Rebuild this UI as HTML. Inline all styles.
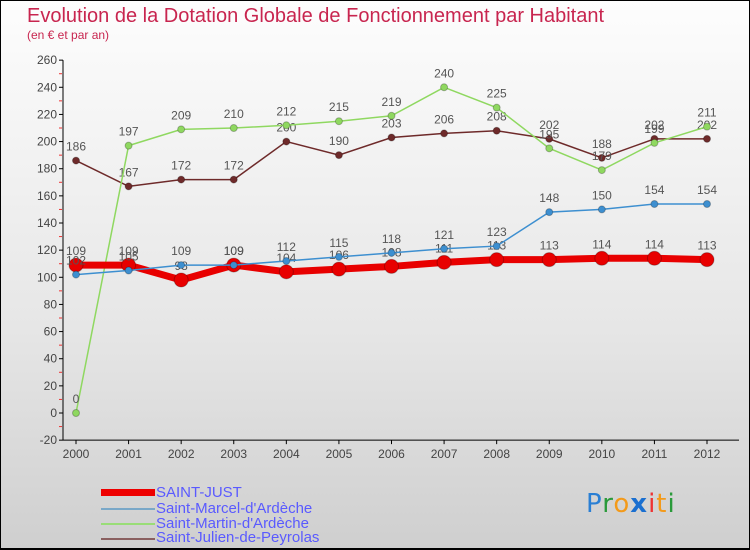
<!DOCTYPE html>
<html><head><meta charset="utf-8"><style>
body{margin:0}
#wrap{position:relative;width:750px;height:550px;box-sizing:border-box;border:1px solid #000;border-bottom:2px solid #000;background:linear-gradient(#fdfdfd,#e6e6e6 60%,#cfcfcf);font-family:"Liberation Sans",sans-serif;overflow:hidden}
.t{position:absolute;color:#c8254f}
.lg{position:absolute;left:155px;font-size:15px;color:#5a5aff;line-height:15px}
.sw{position:absolute;left:100px;width:54px}
</style></head><body>
<div id="wrap">
<div class="t" style="left:26px;top:4px;font-size:20px">Evolution de la Dotation Globale de Fonctionnement par Habitant</div>
<div class="t" style="left:26px;top:27px;font-size:12px">(en € et par an)</div>
<svg id="svg" width="750" height="550" style="position:absolute;left:0;top:0"></svg>
<div class="sw" style="top:488px;height:7px;background:#e00"></div>
<div class="lg" style="top:484px">SAINT-JUST</div>
<div class="sw" style="top:507px;height:2px;background:#7aa8c8"></div>
<div class="lg" style="top:500px">Saint-Marcel-d'Ardèche</div>
<div class="sw" style="top:522px;height:2px;background:#99dd77"></div>
<div class="lg" style="top:515px">Saint-Martin-d'Ardèche</div>
<div class="sw" style="top:537px;height:2px;background:#8a6060"></div>
<div class="lg" style="top:529px">Saint-Julien-de-Peyrolas</div>
<div style="position:absolute;left:585px;top:488px;font-size:26px;font-family:'DejaVu Sans',sans-serif;letter-spacing:1px"><span style="color:#2a7fd4">P</span><span style="color:#2a9a3a">r</span><span style="color:#f39a1a">o</span><span style="color:#1a6fd0;font-weight:bold">x</span><span style="color:#e33">i</span><span style="color:#f39a1a">t</span><span style="color:#2a9a3a">i</span></div>
</div>
<script>
const years=[2000,2001,2002,2003,2004,2005,2006,2007,2008,2009,2010,2011,2012];
const saintJust=[109,109,98,109,104,106,108,111,113,113,114,114,113];
const saintMarcel=[102,105,109,109,112,115,118,121,123,148,150,154,154];
const saintMartin=[0,197,209,210,212,215,219,240,225,195,179,199,211];
const saintJulien=[186,167,172,172,200,190,203,206,208,202,188,202,202];
const yTicks=[-20,0,20,40,60,80,100,120,140,160,180,200,220,240,260];
const svg=document.getElementById('svg');const NS='http://www.w3.org/2000/svg';
const X=i=>75+i*(706-75)/(years.length-1);
const Y=v=>412-v*(380/280);
function mk(tag,at,name){const e=document.createElementNS(NS,tag);for(const k in at)e.setAttribute(k,at[k]);


svg.appendChild(e);return e;}
mk('line',{x1:62,y1:Y(260),x2:62,y2:Y(-20),stroke:'#000'},'y-axis');
mk('line',{x1:62,y1:Y(-20),x2:738,y2:Y(-20),stroke:'#000'},'x-axis');
yTicks.forEach(v=>{mk('line',{x1:58,y1:Y(v),x2:62,y2:Y(v),stroke:'#000'},'y-tick');
if(v<260)mk('line',{x1:58,y1:Y(v+10),x2:61,y2:Y(v+10),stroke:'#e33'},'y-minor-tick');
const t=mk('text',{x:56,y:Y(v)+4,'text-anchor':'end','font-size':12,fill:'#444'},'y-tick-label');t.textContent=v;});
years.forEach((y,i)=>{mk('line',{x1:X(i),y1:Y(-20),x2:X(i),y2:Y(-20)+4,stroke:'#000'},'x-tick');
const t=mk('text',{x:X(i),y:Y(-20)+18,'text-anchor':'middle','font-size':12,fill:'#444'},'x-tick-label');t.textContent=y;});
function series(d,col,w,r,name){mk('polyline',{points:d.map((v,i)=>X(i)+','+Y(v)).join(' '),fill:'none',stroke:col,'stroke-width':w},name+'-line');
d.forEach((v,i)=>{mk('circle',{cx:X(i),cy:Y(v),r:r,fill:col,stroke:'rgba(0,0,0,0.25)'},name+'-point');
const t=mk('text',{x:X(i),y:Y(v)-10,'text-anchor':'middle','font-size':12,fill:'#555'},name+'-value');t.textContent=v;});}
series(saintJulien,'#6e2a2a',1.5,3.5,'saint-julien');
series(saintMartin,'#8fd860',1.5,3.5,'saint-martin');
series(saintJust,'#e80000',7,7,'saint-just');
series(saintMarcel,'#3d8fd0',1.5,3.5,'saint-marcel');
</script>
</body></html>
